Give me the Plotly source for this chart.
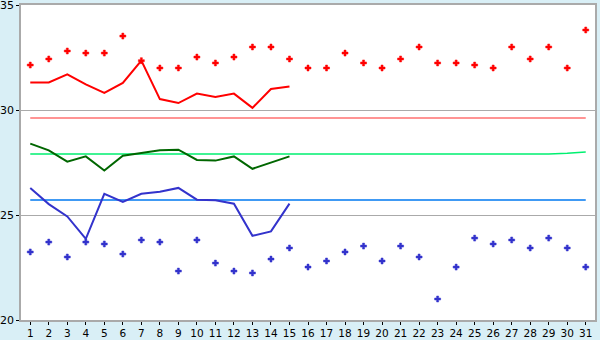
import plotly.graph_objects as go

days = list(range(1, 32))

red_points = [32.14, 32.43, 32.81, 32.71, 32.71, 33.52, 32.35, 32.0, 32.0, 32.52,
              32.24, 32.52, 33.0, 33.0, 32.43, 32.0, 32.0, 32.71, 32.24, 32.0,
              32.43, 33.0, 32.24, 32.24, 32.14, 32.0, 33.0, 32.43, 33.0, 32.0, 33.81]
blue_points = [23.24, 23.71, 23.0, 23.71, 23.62, 23.14, 23.81, 23.71, 22.33, 23.81,
               22.71, 22.33, 22.24, 22.90, 23.43, 22.52, 22.81, 23.24, 23.52, 22.81,
               23.52, 23.0, 21.0, 22.52, 23.90, 23.62, 23.81, 23.43, 23.90, 23.43, 22.52]

line_days = list(range(1, 16))
red_line = [31.31, 31.31, 31.70, 31.22, 30.81, 31.29, 32.35, 30.52, 30.33, 30.78,
            30.62, 30.78, 30.10, 31.0, 31.12]
green_line = [28.40, 28.08, 27.54, 27.79, 27.12, 27.82, 27.95, 28.08, 28.11, 27.62,
              27.59, 27.79, 27.2, 27.5, 27.79]
blue_line = [26.29, 25.52, 24.93, 23.86, 26.01, 25.62, 26.01, 26.11, 26.29, 25.73,
             25.70, 25.54, 24.01, 24.22, 25.54]

pink_ref = [29.62] * 31
green_ref = [27.9] * 29 + [27.94, 28.0]
blue_ref = [25.71] * 31

fig = go.Figure()
fig.add_trace(go.Scatter(x=days, y=pink_ref, mode="lines", line=dict(color="#FF7070", width=1.3)))
fig.add_trace(go.Scatter(x=days, y=green_ref, mode="lines", line=dict(color="#00F070", width=1.5)))
fig.add_trace(go.Scatter(x=days, y=blue_ref, mode="lines", line=dict(color="#0078F0", width=1.5)))
fig.add_trace(go.Scatter(x=line_days, y=red_line, mode="lines", line=dict(color="#FF0000", width=2)))
fig.add_trace(go.Scatter(x=line_days, y=green_line, mode="lines", line=dict(color="#006600", width=2)))
fig.add_trace(go.Scatter(x=line_days, y=blue_line, mode="lines", line=dict(color="#3333CC", width=2)))
fig.add_trace(go.Scatter(x=days, y=red_points, mode="markers",
                         marker=dict(symbol="cross", size=5, color="#FF0000",
                                     line=dict(width=0.5, color="#FF0000"))))
fig.add_trace(go.Scatter(x=days, y=blue_points, mode="markers",
                         marker=dict(symbol="cross", size=5, color="#3333CC",
                                     line=dict(width=0.5, color="#3333CC"))))

fig.update_layout(
    width=600, height=340,
    margin=dict(l=21, r=5, t=5, b=20),
    paper_bgcolor="#D9EFF6",
    plot_bgcolor="#FFFFFF",
    showlegend=False,
    font=dict(family="DejaVu Sans", size=11, color="#000000"),
)
fig.update_xaxes(
    range=[0.5, 31.5], tickmode="array", tickvals=days, ticktext=[str(d) for d in days],
    showgrid=False, zeroline=False, showline=True, linecolor="#AAAAAA", linewidth=1.5, mirror=True,
    ticks="outside", ticklen=3, tickcolor="#000000", tickwidth=1, automargin=False,
    tickfont=dict(size=10.5),
)
fig.update_yaxes(
    range=[20, 35], tickmode="array", tickvals=[20, 25, 30, 35],
    showgrid=True, gridcolor="#AAAAAA", gridwidth=1, zeroline=False,
    showline=True, linecolor="#AAAAAA", linewidth=1.5, mirror=True,
    ticks="outside", ticklen=3, tickcolor="#000000", tickwidth=1, automargin=False,
    ticklabeloverflow="allow",
)

fig.write_html("out.html")
